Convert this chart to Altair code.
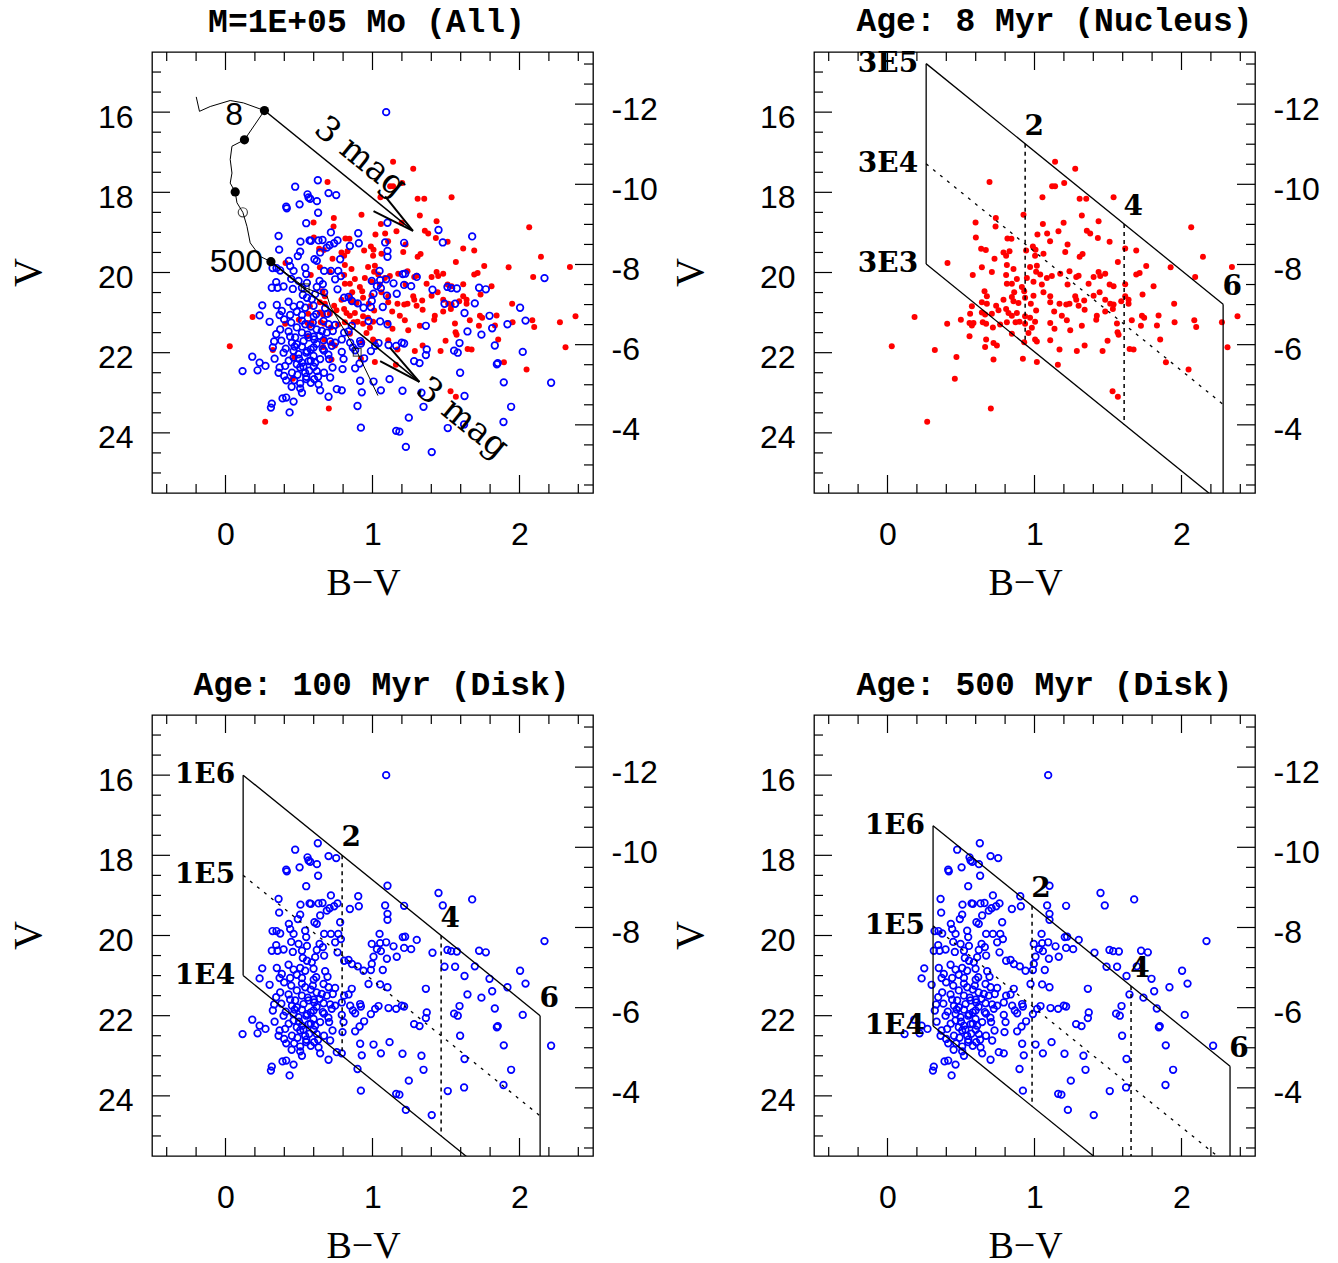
import altair as alt
import pandas as pd

# ------------------------------------------------------------------ data
# Nucleus clusters (red, filled)  : B-V , V
red_bv = [0.694,1.120,1.140,1.054,0.925,0.599,0.737,0.735,1.057,0.601,0.816,0.843,1.020,1.086,1.163,
          0.637,0.669,0.943,0.989,1.007,0.789,0.830,1.106,0.408,0.728,0.807,0.812,1.004,1.061,0.642,
          0.710,0.857,0.970,1.016,1.011,1.175,0.580,0.807,0.880,0.948,1.039,1.084,1.118,0.812,0.846,
          0.914,0.993,1.050,1.140,
          1.277,1.202,1.307,1.352,1.538,1.322,1.198,1.436,1.356,1.379,1.431,1.511,1.225,1.209,2.066,
          1.617,1.692,1.327,1.307,2.146,1.567,1.760,1.926,2.343,1.238,1.300,1.284,1.402,1.436,1.447,
          1.481,1.692,1.715,2.093,1.617,1.810,1.511,1.538,1.225,1.368,
          0.660,0.676,0.862,0.930,0.993,1.061,1.107,0.846,0.574,0.642,0.676,0.739,0.789,0.857,0.891,
          0.936,0.975,1.107,1.170,0.562,0.642,0.664,0.710,0.755,0.807,0.823,0.846,0.880,0.936,0.970,
          1.011,1.134,0.184,0.406,0.499,0.558,0.574,0.585,0.648,0.671,0.717,0.766,0.812,0.871,0.898,
          0.936,1.004,0.982,1.107,1.136,0.558,0.846,0.959,1.004,1.016,1.107,0.671,0.721,0.744,0.664,
          0.930,1.170,0.029,0.322,0.469,0.721,0.921,1.016,1.159,0.458,0.703,0.270,
          1.277,1.284,1.338,1.402,1.443,1.481,1.515,1.538,1.590,1.617,1.640,1.640,1.735,1.216,1.238,
          1.300,1.341,1.481,1.533,1.950,1.186,1.220,1.424,1.420,1.662,1.731,1.746,1.844,1.953,2.087,
          2.100,2.275,2.381,1.322,1.243,1.561,1.565,1.572,1.724,1.833,1.855,1.497,1.341,1.288,1.463,
          1.647,1.674,2.313,1.894,2.048,1.531,1.567]
red_v = [17.74,17.85,17.85,18.12,18.56,18.75,18.64,18.85,18.79,19.13,19.15,19.16,19.05,19.03,18.97,
         19.41,19.44,19.45,19.35,19.43,19.50,19.47,19.22,19.76,19.66,19.58,19.81,19.58,19.53,19.87,
         19.99,19.91,19.86,19.83,19.98,20.03,20.06,20.06,20.16,20.14,20.05,20.14,20.09,20.28,20.28,
         20.36,20.23,20.30,17.24,
         17.41,17.77,18.16,18.16,18.12,18.58,18.76,18.72,18.96,19.03,19.14,19.23,19.30,19.49,18.87,
         19.40,19.45,19.54,19.61,19.61,19.74,19.84,19.87,19.86,19.97,20.08,20.11,20.11,19.99,20.09,
         20.03,20.05,20.01,20.11,20.29,20.34,20.30,20.34,20.30,20.28,
         20.47,20.59,20.49,20.47,20.58,20.49,20.59,20.61,20.84,20.74,20.78,20.83,20.68,20.72,20.76,
         20.63,20.78,20.74,20.78,21.03,21.00,21.05,21.03,20.94,20.91,21.01,21.08,21.01,21.09,21.13,
         20.95,20.97,21.11,21.28,21.18,21.26,21.32,21.26,21.24,21.28,21.37,21.30,21.24,21.24,21.23,
         21.28,21.23,21.38,21.26,21.40,21.59,21.53,21.51,21.67,21.72,21.69,21.67,21.76,21.82,21.86,
         21.74,21.92,21.84,21.93,22.11,22.17,22.15,22.23,22.30,22.65,23.39,23.72,
         20.59,20.68,20.70,20.58,20.49,20.68,20.78,20.80,20.72,20.59,20.68,20.78,20.55,20.80,20.78,
         20.83,20.93,20.97,20.91,20.78,21.08,21.19,21.08,21.18,21.19,21.08,21.13,21.07,21.24,21.19,
         21.36,21.24,21.09,21.33,21.44,21.27,21.49,21.55,21.33,21.32,21.67,21.70,21.82,21.96,21.96,
         21.91,21.92,21.865,22.24,22.42,22.96,23.10]

# Disk clusters (blue, open)  : B-V , V
blue_bv = [1.093,0.474,0.628,0.558,0.565,0.576,0.701,0.753,0.622,0.504,0.413,
           0.417,0.549,0.361,0.510,0.572,0.365,0.508,0.492,0.431,0.320,0.347,0.372,0.440,0.463,0.542,
           0.549,0.447,0.497,0.345,0.315,0.354,0.395,0.458,0.520,0.554,0.526,0.554,0.250,0.349,0.429,
           0.463,0.508,0.542,0.383,0.485,0.232,0.368,0.440,0.520,
           0.630,1.102,0.717,0.903,0.907,0.846,1.086,1.102,1.102,0.581,0.633,0.660,0.762,0.739,0.708,
           0.689,0.644,0.605,0.621,0.780,0.671,0.717,0.767,0.785,0.746,0.640,1.048,0.995,1.052,1.093,
           1.030,1.057,0.621,0.662,0.671,0.762,0.610,0.807,0.837,0.860,0.900,1.007,1.098,0.995,0.587,
           0.599,0.678,1.070,0.989,0.617,0.694,0.939,
           0.300,0.399,0.447,0.372,0.345,0.429,0.485,0.520,0.331,0.322,0.452,0.485,0.395,0.182,0.334,
           0.463,0.232,0.272,0.218,0.116,0.368,0.361,0.406,0.452,0.508,0.542,0.399,0.413,0.467,0.508,
           0.508,0.549,0.388,0.413,0.463,0.315,0.309,0.436,0.474,0.531,0.554,0.497,0.565,0.520,0.485,
           0.463,0.542,0.565,
           0.58,0.62,0.56,0.60,0.64,0.52,0.58,0.62,0.55,0.50,0.58,0.53,0.57,0.49,0.55,0.60,0.47,0.44,
           0.41,0.43,0.38,0.52,0.60,0.67,0.70,0.63,0.67,0.45,0.58,0.52,
           0.594,0.667,0.701,0.746,0.655,0.689,0.730,0.807,0.837,0.859,0.973,1.052,1.102,0.603,0.667,
           0.712,0.746,0.791,0.848,0.866,0.882,0.916,0.921,0.989,1.018,1.041,1.109,0.599,0.662,0.723,
           0.791,0.599,0.644,0.705,0.803,0.610,0.728,0.796,0.882,0.912,0.943,0.621,0.712,0.603,0.633,
           0.916,1.007,1.116,0.644,0.757,0.791,0.927,1.057,0.701,0.898,0.921,
           1.449,1.678,1.478,1.215,1.222,1.206,1.301,1.143,1.215,1.263,1.408,1.510,1.535,1.574,1.725,
           1.771,2.170,1.165,1.490,1.562,1.696,1.626,1.796,2.004,
           1.363,1.918,2.041,1.646,1.741,1.814,1.592,1.199,1.215,1.161,1.832,2.022,1.555,1.580,1.369,
           1.363,1.283,1.320,1.846,1.852,1.596,2.215,1.893,1.204,1.333,1.626,1.347,1.943,1.247,1.512,
           1.623,1.891,1.161,1.183,1.227,1.403]
blue_v = [16.00,17.86,17.70,18.05,18.13,18.16,18.02,18.07,18.22,18.30,18.36,
          18.40,18.77,19.09,19.23,19.20,19.43,19.48,19.59,19.71,19.89,19.89,19.95,19.84,19.96,19.88,
          20.04,20.16,20.21,20.24,20.38,20.38,20.35,20.41,20.38,20.26,20.56,20.63,20.82,20.81,20.73,
          20.85,20.81,20.88,20.96,20.98,21.07,21.06,21.06,21.06,
          18.51,18.76,19.00,19.02,19.27,19.34,19.25,19.46,19.61,19.21,19.20,19.19,19.20,19.27,19.32,
          19.38,19.50,19.67,19.71,19.67,19.96,19.96,19.96,20.09,20.17,20.21,19.96,20.21,20.19,20.17,
          20.34,20.39,20.36,20.29,20.50,20.42,20.54,20.63,20.61,20.71,20.77,20.53,20.58,20.71,20.67,
          20.83,20.89,20.86,20.86,21.04,21.03,20.88,
          21.23,21.17,21.25,21.42,21.54,21.47,21.37,21.50,21.72,21.87,21.75,21.79,22.00,22.10,22.15,
          22.12,22.25,22.33,22.44,22.46,22.37,22.50,22.33,22.50,22.37,22.50,22.58,22.69,22.69,22.77,
          22.89,22.66,23.14,23.12,23.22,23.27,23.37,23.49,21.62,21.71,21.96,22.04,22.21,22.25,22.29,
          21.96,21.29,21.62,
          21.35,21.42,21.55,21.60,21.58,21.85,21.92,21.78,22.00,22.15,22.20,22.35,22.45,22.55,22.60,
          22.35,21.85,21.60,21.90,22.20,21.70,21.20,21.10,21.95,22.05,22.60,22.50,22.85,22.75,23.00,
          21.25,21.21,21.29,21.31,21.46,21.50,21.46,21.50,21.47,21.33,21.21,21.22,21.29,21.67,21.69,
          21.72,21.75,21.67,21.75,21.87,21.94,21.71,21.77,21.96,21.83,21.76,21.81,21.87,21.91,21.83,
          21.98,22.08,22.16,22.16,22.16,22.25,22.37,22.41,22.39,22.27,22.14,22.46,22.62,22.66,22.79,
          22.70,22.72,22.66,22.94,22.91,22.94,22.99,22.94,23.10,23.33,23.87,
          18.94,19.10,19.25,19.26,20.03,20.04,20.11,20.27,20.31,20.34,20.43,20.36,20.39,20.40,20.38,
          20.42,20.14,20.53,20.78,20.78,20.77,21.01,21.08,20.88,
          21.33,21.29,21.20,21.47,21.55,21.39,21.76,21.75,21.77,21.83,21.82,21.98,21.95,22.00,21.92,
          22.06,22.21,22.26,22.29,22.26,22.50,22.75,22.74,22.95,23.00,23.08,23.35,23.35,23.62,23.88,
          23.79,23.73,23.95,23.97,24.35,24.48]

# Evolutionary track of a 1E5 Mo cluster (panel 1)
track_bv = [-0.199,-0.177,-0.104,0.032,0.122,0.265,0.129,0.044,0.032,0.044,0.032,0.066,0.078,0.118,
            0.146,0.168,0.236,0.309,0.542,0.692,0.714,0.896,1.037]
track_v = [15.62,15.98,15.86,15.71,15.77,15.96,16.69,16.85,17.18,17.52,17.77,17.99,18.26,18.50,
           18.85,19.26,19.60,19.73,20.38,20.60,20.85,21.99,23.07]
age_dot_bv = [0.265, 0.129, 0.066, 0.309]
age_dot_v = [15.96, 16.69, 17.99, 19.73]
open_dot_bv = [0.118]
open_dot_v = [18.50]
square_bv = [0.542, 0.896]
square_v = [20.38, 21.99]

# Reddening arrows (A_V = 3 mag)
arrow_from_bv = [0.265, 0.309]
arrow_from_v = [15.96, 19.73]
arrow_tip_bv = [1.275, 1.319]
arrow_tip_v = [18.96, 22.73]
wing_a_bv = [1.007, 1.052]
wing_a_v = [18.47, 22.21]
wing_b_bv = [1.086, 1.120]
wing_b_v = [18.10, 21.88]

p1_text = ["8", "500"]
p1_text_bv = [0.059, 0.256]
p1_text_v = [16.06, 19.75]
mag_text = ["3 mag", "3 mag"]
mag_text_bv = [0.917, 1.610]
mag_text_v = [17.13, 23.64]

# Reddening grids: intrinsic colour, V of the three masses, labels
R_V = 2.97
av_values = [0, 2, 4, 6]
grid_c0 = {"p2": 0.263, "p3": 0.12, "p4": 0.31}
grid_vm = {"p2": [14.79, 17.29, 19.79], "p3": [16.0, 18.5, 21.0], "p4": [17.26, 19.76, 22.26]}
grid_mass_labels = {"p2": ["3E5", "3E4", "3E3"], "p3": ["1E6", "1E5", "1E4"], "p4": ["1E6", "1E5", "1E4"]}
av_labels = ["2", "4", "6"]

titles = ["M=1E+05 Mo (All)", "Age: 8 Myr (Nucleus)", "Age: 100 Myr (Disk)", "Age: 500 Myr (Disk)"]
title_dx = [-6, 20, 9, 10]

# axes
x_major = [0, 1, 2]
x_minor = [-0.4, -0.2, 0.2, 0.4, 0.6, 0.8, 1.2, 1.4, 1.6, 1.8, 2.2, 2.4]
v_major = [16, 18, 20, 22, 24]
v_minor = [15, 15.5, 16.5, 17, 17.5, 18.5, 19, 19.5, 20.5, 21, 21.5, 22.5, 23, 23.5, 24.5, 25]
m_major = [-12, -10, -8, -6, -4]
m_minor = [-13, -12.5, -11.5, -11, -10.5, -9.5, -9, -8.5, -7.5, -7, -6.5, -5.5, -5, -4.5,
           -3.5, -3, -2.5]
DIST_MOD = 27.8
V_DOMAIN = [14.5, 25.5]
X_DOMAIN = [-0.5, 2.5]

# ------------------------------------------------------------------ styling
W = H = 441
MAJ, MIN_ = 18, 9
SANS = "Liberation Sans"
SERIF = "Liberation Serif"

xscale = alt.Scale(domain=X_DOMAIN, nice=False, zero=False)
vscale = alt.Scale(domain=V_DOMAIN, nice=False, zero=False, reverse=True)
mscale = alt.Scale(domain=[V_DOMAIN[0] - DIST_MOD, V_DOMAIN[1] - DIST_MOD], nice=False, zero=False,
                   reverse=True)

xaxis = alt.Axis(values=x_major, ticks=False, domain=False, grid=False, tickSize=0,
                 labelFont=SANS, labelFontSize=32, labelPadding=26, labelColor="black",
                 titleFont=SERIF, titleFontSize=38, titleFontWeight="normal", titleColor="black",
                 titleX=211, titleY=101, titleBaseline="alphabetic", titleAlign="center", format="d")
vaxis = alt.Axis(values=v_major, ticks=False, domain=False, grid=False, tickSize=0,
                 labelFont=SANS, labelFontSize=32, labelPadding=19, labelOffset=5, labelColor="black",
                 titleFont=SERIF, titleFontSize=40, titleFontWeight="normal", titleColor="black",
                 titleX=-112, titleY=220, titleAngle=-90, titleBaseline="alphabetic",
                 titleAlign="center", format="d")
maxis = alt.Axis(orient="right", values=m_major, ticks=False, domain=False, grid=False, tickSize=0,
                 labelFont=SANS, labelFontSize=32, labelPadding=18, labelOffset=5, labelColor="black",
                 labelExpr="'-' + format(abs(datum.value), 'd')", title=None)


def X(f):
    return alt.X(f, type="quantitative", scale=xscale, axis=xaxis, title="B−V")


def Y(f):
    return alt.Y(f, type="quantitative", scale=vscale, axis=vaxis, title="V")


def frame_layers():
    out = []
    for vals, L in ((x_major, MAJ), (x_minor, MIN_)):
        df = pd.DataFrame({"bv": vals})
        out.append(alt.Chart(df).mark_rule(color="black", strokeWidth=1.2).encode(
            x=X("bv"), y=alt.value(H), y2=alt.value(H - L)))
        out.append(alt.Chart(df).mark_rule(color="black", strokeWidth=1.2).encode(
            x=X("bv"), y=alt.value(0), y2=alt.value(L)))
    for vals, L in ((v_major, MAJ), (v_minor, MIN_)):
        df = pd.DataFrame({"v": vals})
        out.append(alt.Chart(df).mark_rule(color="black", strokeWidth=1.2).encode(
            y=Y("v"), x=alt.value(0), x2=alt.value(L)))
    return out


def right_layer():
    ls = []
    for vals, L in ((m_major, MAJ), (m_minor, MIN_)):
        df = pd.DataFrame({"m": vals})
        ls.append(alt.Chart(df).mark_rule(color="black", strokeWidth=1.2).encode(
            y=alt.Y("m:Q", scale=mscale, axis=maxis), x=alt.value(W), x2=alt.value(W - L)))
    return alt.layer(*ls)


red_df = pd.DataFrame({"bv": red_bv, "v": red_v})
blue_df = pd.DataFrame({"bv": blue_bv, "v": blue_v})


def red_layer():
    return alt.Chart(red_df).mark_circle(size=36, color="#ff0000", opacity=1).encode(x=X("bv"), y=Y("v"))


def blue_layer():
    return alt.Chart(blue_df).mark_point(shape="circle", filled=False, size=44, strokeWidth=1.7,
                                         color="#0000ff", opacity=1).encode(x=X("bv"), y=Y("v"))


def grid_layers(key):
    c0 = grid_c0[key]
    v0, v1, v2 = grid_vm[key]
    dmax = av_values[-1]
    solid = pd.DataFrame({
        "bv": [c0, c0, c0, c0 + dmax / R_V],
        "v": [v0, v2, v0, v0 + dmax],
        "bv2": [c0 + dmax / R_V, c0 + dmax / R_V, c0, c0 + dmax / R_V],
        "v2": [v0 + dmax, v2 + dmax, v2, v2 + dmax]})
    dashed = pd.DataFrame({"bv": [c0], "v": [v1], "bv2": [c0 + dmax / R_V], "v2": [v1 + dmax]})
    dotted = pd.DataFrame({
        "bv": [c0 + a / R_V for a in av_values[1:3]], "v": [v0 + a for a in av_values[1:3]],
        "bv2": [c0 + a / R_V for a in av_values[1:3]], "v2": [v2 + a for a in av_values[1:3]]})
    mass_lab = pd.DataFrame({"bv": [c0] * 3, "v": grid_vm[key], "t": grid_mass_labels[key]})
    av_lab = pd.DataFrame({"bv": [c0 + a / R_V for a in av_values[1:]],
                           "v": [v0 + a for a in av_values[1:]], "t": av_labels})
    enc = dict(x=X("bv"), y=Y("v"), x2=alt.X2("bv2"), y2=alt.Y2("v2"))
    return [
        alt.Chart(solid).mark_rule(color="black", strokeWidth=1.3, clip=True).encode(**enc),
        alt.Chart(dashed).mark_rule(color="black", strokeWidth=1.3, strokeDash=[3, 6], clip=True).encode(**enc),
        alt.Chart(dotted).mark_rule(color="black", strokeWidth=1.5, strokeDash=[4, 4], clip=True).encode(**enc),
        alt.Chart(mass_lab).mark_text(font="DejaVu Serif", fontWeight="bold", fontSize=28, align="right",
                                      baseline="middle", dx=-8, color="black").encode(
            x=X("bv"), y=Y("v"), text="t:N"),
        alt.Chart(av_lab).mark_text(font="DejaVu Serif", fontWeight="bold", fontSize=28, align="center",
                                    baseline="middle", dx=9, dy=-17, color="black").encode(
            x=X("bv"), y=Y("v"), text="t:N"),
    ]


def panel1_layers():
    track = pd.DataFrame({"bv": track_bv, "v": track_v, "i": list(range(len(track_bv)))})
    dots = pd.DataFrame({"bv": age_dot_bv, "v": age_dot_v})
    opend = pd.DataFrame({"bv": open_dot_bv, "v": open_dot_v})
    sq = pd.DataFrame({"bv": square_bv, "v": square_v})
    shafts = pd.DataFrame({"bv": arrow_from_bv, "v": arrow_from_v, "bv2": arrow_tip_bv, "v2": arrow_tip_v})
    wings = pd.DataFrame({"bv": wing_a_bv + wing_b_bv, "v": wing_a_v + wing_b_v,
                          "bv2": arrow_tip_bv + arrow_tip_bv, "v2": arrow_tip_v + arrow_tip_v})
    labs = pd.DataFrame({"bv": p1_text_bv, "v": p1_text_v, "t": p1_text})
    mags = pd.DataFrame({"bv": mag_text_bv, "v": mag_text_v, "t": mag_text})
    return [
        alt.Chart(track).mark_line(color="black", strokeWidth=1).encode(x=X("bv"), y=Y("v"), order="i:Q"),
        alt.Chart(shafts).mark_rule(color="black", strokeWidth=1.5).encode(
            x=X("bv"), y=Y("v"), x2=alt.X2("bv2"), y2=alt.Y2("v2")),
        alt.Chart(wings).mark_rule(color="black", strokeWidth=2).encode(
            x=X("bv"), y=Y("v"), x2=alt.X2("bv2"), y2=alt.Y2("v2")),
        alt.Chart(dots).mark_circle(size=85, color="black", opacity=1).encode(x=X("bv"), y=Y("v")),
        alt.Chart(opend).mark_point(shape="circle", filled=False, size=85, strokeWidth=1.2,
                                    color="black").encode(x=X("bv"), y=Y("v")),
        alt.Chart(sq).mark_point(shape="square", filled=False, size=60, strokeWidth=1.2,
                                 color="black").encode(x=X("bv"), y=Y("v")),
        alt.Chart(labs.iloc[[0]]).mark_text(font=SANS, fontSize=32, align="center", baseline="middle",
                                            color="black").encode(x=X("bv"), y=Y("v"), text="t:N"),
        alt.Chart(labs.iloc[[1]]).mark_text(font=SANS, fontSize=32, align="right", baseline="middle",
                                            color="black").encode(x=X("bv"), y=Y("v"), text="t:N"),
        alt.Chart(mags).mark_text(font="DejaVu Serif", fontSize=34, align="center", baseline="middle",
                                  angle=39, color="black").encode(x=X("bv"), y=Y("v"), text="t:N"),
    ]


def make_panel(layers, i):
    inner = alt.layer(*(frame_layers() + layers))
    return alt.layer(inner, right_layer()).resolve_scale(y="independent").properties(
        width=W, height=H,
        title=alt.TitleParams(titles[i], font="Liberation Mono", fontSize=33, fontWeight="bold",
                              color="black", anchor="middle", offset=12, dx=title_dx[i]))


p1 = make_panel([red_layer(), blue_layer()] + panel1_layers(), 0)
p2 = make_panel([red_layer()] + grid_layers("p2"), 1)
p3 = make_panel([blue_layer()] + grid_layers("p3"), 2)
p4 = make_panel([blue_layer()] + grid_layers("p4"), 3)

chart = alt.concat(p1, p2, p3, p4, columns=2, spacing=alt.RowColnumber(row=222, column=221),
                   bounds="flush").configure_view(stroke="black", strokeWidth=1.3).properties(
    background="white", padding={"left": 7, "top": 3, "right": 5, "bottom": 2})

chart.save("out.html", embed_options={"renderer": "svg", "actions": False})
